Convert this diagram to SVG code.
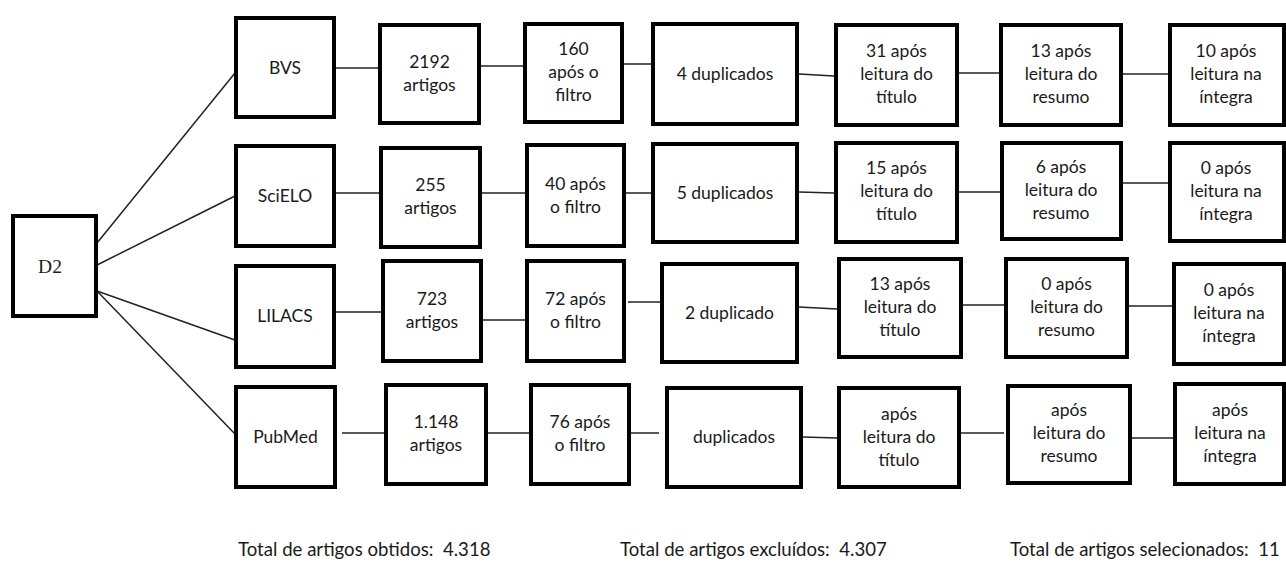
<svg xmlns="http://www.w3.org/2000/svg" width="1286" height="565" viewBox="0 0 1286 565">
<style>
.b{fill:#fff;stroke:#000;stroke-width:4}
.t{font-family:Lato,"Liberation Sans",sans-serif;font-size:17.5px;fill:#1a1a1a;text-anchor:middle}
.f{font-family:Lato,"Liberation Sans",sans-serif;font-size:18.6px;fill:#1a1a1a;white-space:pre}
.c line{stroke:#222;stroke-width:1.5}
</style>
<rect width="1286" height="565" fill="#fff"/>
<g class="c" id="connectors">
<line x1="97" y1="243" x2="235" y2="73"/>
<line x1="97" y1="265" x2="235" y2="196"/>
<line x1="97" y1="291" x2="235" y2="340"/>
<line x1="97" y1="291" x2="235" y2="434"/>
<line x1="336" y1="68" x2="378" y2="68"/>
<line x1="481" y1="66" x2="523" y2="66"/>
<line x1="624" y1="64" x2="651" y2="64"/>
<line x1="799" y1="74" x2="834" y2="76"/>
<line x1="959" y1="73" x2="999" y2="73"/>
<line x1="1123" y1="74" x2="1168" y2="74"/>
<line x1="336" y1="193" x2="379" y2="193"/>
<line x1="482" y1="193" x2="525" y2="193"/>
<line x1="620" y1="193" x2="651" y2="193"/>
<line x1="799" y1="192" x2="834" y2="193"/>
<line x1="959" y1="192" x2="1000" y2="192"/>
<line x1="1123" y1="183" x2="1168" y2="183"/>
<line x1="336" y1="312" x2="381" y2="312"/>
<line x1="483" y1="320" x2="525" y2="320"/>
<line x1="628" y1="302" x2="660" y2="302"/>
<line x1="799" y1="307" x2="837" y2="309"/>
<line x1="963" y1="305" x2="1004" y2="305"/>
<line x1="1129" y1="306" x2="1172" y2="306"/>
<line x1="342" y1="433" x2="384" y2="433"/>
<line x1="488" y1="433" x2="529" y2="433"/>
<line x1="631" y1="433" x2="659" y2="433"/>
<line x1="803" y1="437" x2="837" y2="438"/>
<line x1="959" y1="433" x2="1004" y2="433"/>
<line x1="1131" y1="438" x2="1174" y2="438"/>
</g>
<g id="d2"><rect class="b" x="13" y="216" width="83" height="100"/><text x="50" y="273" style="font-family:'Liberation Serif',serif;font-size:19.5px;fill:#1a1a1a;text-anchor:middle">D2</text></g>

<g id="bvs"><rect class="b" x="236" y="18" width="98" height="99"/><text class="t" x="285" y="74">BVS</text></g>
<g id="bvs-artigos"><rect class="b" x="380" y="25" width="99" height="98"/><text class="t" x="429.5" y="67.5">2192<tspan x="429.5" dy="23">artigos</tspan></text></g>
<g id="bvs-filtro"><rect class="b" x="525" y="24" width="97" height="98"/><text class="t" x="573.5" y="55">160<tspan x="573.5" dy="23">após o</tspan><tspan x="573.5" dy="23">filtro</tspan></text></g>
<g id="bvs-dup"><rect class="b" x="653" y="24" width="144" height="100"/><text class="t" x="725" y="80">4 duplicados</text></g>
<g id="bvs-titulo"><rect class="b" x="836" y="25" width="121" height="100"/><text class="t" x="896.5" y="57">31 após<tspan x="896.5" dy="23">leitura do</tspan><tspan x="896.5" dy="23">título</tspan></text></g>
<g id="bvs-resumo"><rect class="b" x="1001" y="25" width="120" height="100"/><text class="t" x="1061" y="57">13 após<tspan x="1061" dy="23">leitura do</tspan><tspan x="1061" dy="23">resumo</tspan></text></g>
<g id="bvs-integra"><rect class="b" x="1170" y="25" width="114" height="100"/><text class="t" x="1226" y="57">10 após<tspan x="1226" dy="23">leitura na</tspan><tspan x="1226" dy="23">íntegra</tspan></text></g>

<g id="scielo"><rect class="b" x="236" y="146" width="98" height="100"/><text class="t" x="285" y="202">SciELO</text></g>
<g id="scielo-artigos"><rect class="b" x="381" y="148" width="99" height="99"/><text class="t" x="430.5" y="191">255<tspan x="430.5" dy="23">artigos</tspan></text></g>
<g id="scielo-filtro"><rect class="b" x="527" y="145" width="97" height="101"/><text class="t" x="575.5" y="190">40 após<tspan x="575.5" dy="23">o filtro</tspan></text></g>
<g id="scielo-dup"><rect class="b" x="653" y="144" width="144" height="98"/><text class="t" x="725" y="199">5 duplicados</text></g>
<g id="scielo-titulo"><rect class="b" x="836" y="143" width="121" height="99"/><text class="t" x="896.5" y="174">15 após<tspan x="896.5" dy="23">leitura do</tspan><tspan x="896.5" dy="23">título</tspan></text></g>
<g id="scielo-resumo"><rect class="b" x="1002" y="143" width="119" height="96"/><text class="t" x="1061" y="173">6 após<tspan x="1061" dy="23">leitura do</tspan><tspan x="1061" dy="23">resumo</tspan></text></g>
<g id="scielo-integra"><rect class="b" x="1170" y="143" width="114" height="98"/><text class="t" x="1226" y="174">0 após<tspan x="1226" dy="23">leitura na</tspan><tspan x="1226" dy="23">íntegra</tspan></text></g>

<g id="lilacs"><rect class="b" x="236" y="266" width="98" height="101"/><text class="t" x="285" y="322">LILACS</text></g>
<g id="lilacs-artigos"><rect class="b" x="383" y="261" width="98" height="100"/><text class="t" x="432" y="305">723<tspan x="432" dy="23">artigos</tspan></text></g>
<g id="lilacs-filtro"><rect class="b" x="527" y="261" width="97" height="100"/><text class="t" x="575.5" y="305">72 após<tspan x="575.5" dy="23">o filtro</tspan></text></g>
<g id="lilacs-dup"><rect class="b" x="662" y="264" width="135" height="98"/><text class="t" x="729.5" y="319">2 duplicado</text></g>
<g id="lilacs-titulo"><rect class="b" x="839" y="259" width="122" height="98"/><text class="t" x="900" y="290">13 após<tspan x="900" dy="23">leitura do</tspan><tspan x="900" dy="23">título</tspan></text></g>
<g id="lilacs-resumo"><rect class="b" x="1006" y="259" width="121" height="98"/><text class="t" x="1066.5" y="290">0 após<tspan x="1066.5" dy="23">leitura do</tspan><tspan x="1066.5" dy="23">resumo</tspan></text></g>
<g id="lilacs-integra"><rect class="b" x="1174" y="264" width="110" height="100"/><text class="t" x="1229" y="296">0 após<tspan x="1229" dy="23">leitura na</tspan><tspan x="1229" dy="23">íntegra</tspan></text></g>

<g id="pubmed"><rect class="b" x="236" y="387" width="99" height="100"/><text class="t" x="285.5" y="443">PubMed</text></g>
<g id="pubmed-artigos"><rect class="b" x="386" y="385" width="100" height="99"/><text class="t" x="436" y="428">1.148<tspan x="436" dy="23">artigos</tspan></text></g>
<g id="pubmed-filtro"><rect class="b" x="531" y="385" width="98" height="99"/><text class="t" x="580" y="428">76 após<tspan x="580" dy="23">o filtro</tspan></text></g>
<g id="pubmed-dup"><rect class="b" x="667" y="388" width="134" height="99"/><text class="t" x="734" y="443">duplicados</text></g>
<g id="pubmed-titulo"><rect class="b" x="839" y="388" width="120" height="99"/><text class="t" x="899" y="420">após<tspan x="899" dy="23">leitura do</tspan><tspan x="899" dy="23">título</tspan></text></g>
<g id="pubmed-resumo"><rect class="b" x="1008" y="386" width="122" height="97"/><text class="t" x="1069" y="416">após<tspan x="1069" dy="23">leitura do</tspan><tspan x="1069" dy="23">resumo</tspan></text></g>
<g id="pubmed-integra"><rect class="b" x="1175" y="384" width="109" height="100"/><text class="t" x="1230" y="416">após<tspan x="1230" dy="23">leitura na</tspan><tspan x="1230" dy="23">íntegra</tspan></text></g>

<g id="totals">
<text class="f" x="238" y="556" xml:space="preserve">Total de artigos obtidos:  4.318</text>
<text class="f" x="620" y="556" xml:space="preserve">Total de artigos excluídos:  4.307</text>
<text class="f" x="1010" y="556" xml:space="preserve">Total de artigos selecionados:  11</text>
</g>
</svg>
